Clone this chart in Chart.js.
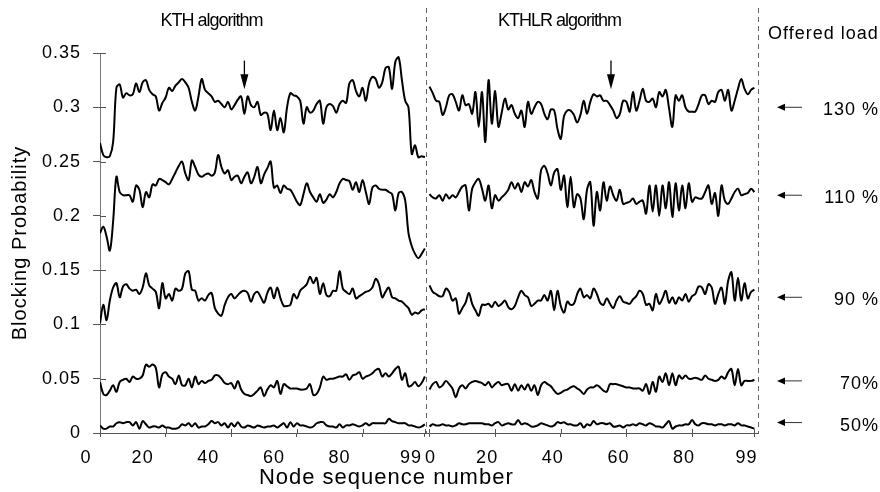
<!DOCTYPE html>
<html>
<head>
<meta charset="utf-8">
<script src="https://cdn.jsdelivr.net/npm/chart.js@4.4.1/dist/chart.umd.min.js"></script>
<style>
  html, body { margin: 0; padding: 0; background: #fff; }
  #wrap { width: 880px; height: 492px; position: relative; }
</style>
</head>
<body>
<div id="wrap"><canvas id="c"></canvas></div>
<script>
// Blocking probability per node, KTH (left panel) vs KTHLR (right panel),
// one curve per offered load.

const kth130 = [.267,.256,.254,.255,.268,.318,.321,.309,.313,.311,
  .312,.322,.314,.323,.325,.316,.312,.310,.297,.304,
  .309,.318,.315,.320,.323,.326,.323,.318,.305,.297,
  .310,.326,.316,.313,.310,.305,.306,.303,.300,.305,
  .298,.302,.307,.310,.294,.310,.302,.300,.305,.293,
  .295,.294,.279,.297,.279,.290,.277,.300,.313,.311,
  .310,.306,.285,.300,.295,.297,.303,.306,.285,.300,
  .303,.301,.295,.303,.306,.304,.322,.325,.315,.310,
  .318,.306,.322,.328,.326,.318,.323,.336,.337,.317,
  .342,.346,.325,.306,.300,.257,.265,.254,.255,.254];
const kth110 = [.184,.190,.181,.168,.195,.236,.222,.219,.219,.219,
  .213,.228,.224,.208,.222,.217,.229,.228,.234,.233,
  .231,.229,.234,.240,.246,.250,.239,.233,.251,.245,
  .238,.236,.238,.239,.237,.240,.256,.245,.239,.242,
  .233,.236,.237,.230,.236,.240,.230,.236,.245,.230,
  .238,.244,.250,.226,.228,.221,.228,.225,.224,.219,
  .213,.210,.220,.230,.222,.217,.213,.220,.212,.215,
  .220,.217,.222,.230,.234,.233,.232,.224,.231,.222,
  .233,.222,.211,.226,.228,.225,.224,.224,.222,.220,
  .205,.221,.222,.214,.184,.172,.165,.161,.165,.170];
const kth90 = [.101,.118,.104,.122,.134,.138,.125,.135,.137,.133,
  .131,.132,.128,.134,.147,.136,.133,.130,.115,.138,
  .124,.128,.122,.133,.131,.133,.147,.149,.132,.131,
  .122,.124,.122,.127,.129,.115,.110,.108,.118,.125,
  .128,.124,.127,.130,.131,.129,.121,.128,.130,.125,
  .120,.129,.134,.124,.134,.124,.117,.117,.118,.128,
  .124,.131,.134,.137,.144,.138,.143,.128,.138,.127,
  .126,.131,.131,.149,.133,.130,.128,.133,.124,.126,
  .128,.130,.131,.134,.142,.137,.125,.130,.134,.125,
  .124,.122,.121,.118,.115,.109,.111,.110,.113,.114];
const kth70 = [.047,.036,.035,.039,.044,.038,.047,.049,.050,.047,
  .052,.050,.050,.053,.063,.061,.063,.060,.042,.054,
  .056,.052,.050,.045,.053,.044,.044,.050,.042,.052,
  .045,.048,.046,.048,.049,.053,.053,.050,.046,.045,
  .046,.041,.048,.040,.036,.035,.034,.036,.039,.042,
  .034,.040,.044,.042,.048,.036,.045,.043,.041,.041,
  .041,.040,.040,.041,.045,.035,.036,.042,.052,.049,
  .050,.050,.051,.052,.052,.054,.049,.053,.054,.056,
  .050,.052,.053,.055,.058,.059,.052,.055,.052,.055,
  .059,.061,.049,.055,.043,.044,.047,.043,.046,.052];
const kth50 = [.007,.004,.004,.006,.006,.009,.010,.009,.010,.010,
  .007,.010,.004,.011,.008,.005,.006,.006,.005,.007,
  .005,.005,.004,.004,.005,.008,.007,.009,.006,.009,
  .005,.006,.006,.008,.011,.009,.010,.007,.009,.005,
  .009,.006,.010,.006,.005,.007,.006,.005,.007,.006,
  .005,.006,.006,.007,.005,.007,.009,.005,.010,.006,
  .009,.007,.007,.006,.005,.006,.009,.010,.010,.007,
  .006,.006,.005,.008,.005,.007,.007,.008,.007,.006,
  .007,.009,.007,.009,.009,.009,.009,.009,.013,.011,
  .010,.009,.009,.009,.007,.007,.006,.005,.006,.008];

const kthlr130 = [.319,.313,.306,.305,.293,.300,.311,.312,.305,.297,
  .311,.302,.303,.294,.314,.282,.314,.268,.325,.285,
  .315,.282,.295,.308,.298,.302,.294,.290,.297,.282,
  .305,.294,.300,.305,.303,.294,.289,.298,.297,.280,
  .271,.292,.297,.297,.293,.286,.293,.306,.294,.305,
  .312,.310,.311,.306,.306,.302,.297,.290,.294,.306,
  .305,.296,.314,.297,.306,.317,.306,.305,.308,.300,
  .314,.310,.316,.299,.282,.311,.306,.311,.300,.296,
  .296,.296,.303,.311,.311,.303,.306,.305,.314,.316,
  .306,.316,.297,.306,.317,.326,.317,.312,.316,.318];
const kthlr110 = [.220,.217,.216,.219,.214,.220,.216,.219,.217,.222,
  .227,.228,.205,.225,.231,.234,.225,.214,.228,.207,
  .219,.214,.217,.220,.224,.231,.225,.230,.222,.231,
  .227,.233,.222,.216,.242,.246,.239,.228,.240,.243,
  .224,.237,.208,.236,.208,.220,.216,.197,.224,.231,
  .191,.222,.205,.231,.214,.227,.219,.214,.224,.211,
  .212,.213,.216,.211,.213,.214,.202,.228,.204,.228,
  .200,.228,.207,.231,.199,.230,.205,.228,.207,.230,
  .213,.217,.216,.216,.222,.228,.211,.221,.200,.228,
  .214,.211,.216,.222,.225,.219,.220,.221,.225,.222];
const kthlr90 = [.136,.130,.128,.126,.126,.133,.130,.122,.124,.110,
  .115,.120,.129,.119,.113,.108,.118,.118,.119,.116,
  .121,.117,.119,.122,.116,.114,.117,.125,.131,.127,
  .125,.117,.119,.122,.122,.127,.122,.131,.113,.131,
  .117,.111,.121,.118,.119,.128,.133,.125,.127,.124,
  .133,.128,.120,.118,.124,.119,.115,.122,.126,.121,
  .120,.119,.123,.126,.131,.128,.118,.119,.113,.128,
  .119,.124,.131,.120,.125,.119,.125,.122,.128,.121,
  .126,.128,.135,.134,.128,.137,.134,.119,.128,.134,
  .119,.140,.148,.122,.143,.122,.138,.124,.130,.132];
const kthlr70 = [.040,.045,.047,.042,.044,.048,.045,.041,.033,.041,
  .044,.041,.045,.047,.048,.047,.046,.044,.047,.042,
  .045,.047,.044,.045,.045,.039,.045,.039,.044,.040,
  .045,.039,.044,.035,.044,.047,.045,.043,.039,.036,
  .037,.039,.040,.042,.043,.041,.039,.036,.040,.042,
  .042,.044,.042,.039,.038,.045,.045,.045,.044,.043,
  .042,.042,.041,.041,.041,.039,.045,.036,.047,.038,
  .052,.047,.055,.044,.055,.044,.053,.050,.053,.050,
  .050,.051,.050,.049,.053,.050,.049,.048,.049,.052,
  .050,.056,.059,.044,.059,.044,.048,.048,.048,.049];
const kthlr50 = [.006,.008,.007,.007,.008,.007,.007,.006,.007,.009,
  .008,.008,.009,.009,.009,.009,.009,.008,.008,.007,
  .009,.010,.007,.008,.009,.008,.008,.012,.008,.009,
  .008,.006,.006,.007,.009,.008,.007,.006,.007,.010,
  .009,.010,.008,.008,.007,.007,.009,.005,.008,.007,
  .011,.008,.009,.009,.008,.009,.006,.006,.007,.005,
  .007,.007,.008,.007,.009,.008,.007,.009,.008,.006,
  .006,.005,.008,.011,.004,.006,.007,.007,.008,.008,
  .012,.008,.007,.009,.009,.008,.008,.007,.008,.008,
  .007,.008,.008,.007,.009,.007,.007,.006,.005,.004];

const panelTitles = ['KTH algorithm', 'KTHLR algorithm'];
const nodeTicks = [0, 20, 40, 60, 80, 99];
const loadLabels = ['130 %', '110 %', '90 %', '70%', '50%'];
const loadLevels = [0.300, 0.219, 0.125, 0.048, 0.0096];   // where each right-hand arrow points
const markedNodes = [[0, 44], [1, 55.3]];                   // [panel, node] of the small down arrows

// the right panel continues on the same linear axis, shifted by this many nodes
const PANEL2 = 100.4;
const X_MAX = 200.5;
const DIVIDER = 99.3;

const FONT = '"Liberation Sans", Arial, sans-serif';

function series(vals, offset) {
  return vals.map((v, i) => ({ x: offset + i, y: v }));
}

const curves = [
  [kth130, 0], [kth110, 0], [kth90, 0], [kth70, 0], [kth50, 0],
  [kthlr130, PANEL2], [kthlr110, PANEL2], [kthlr90, PANEL2], [kthlr70, PANEL2], [kthlr50, PANEL2],
];

const datasets = curves.map(([vals, off]) => ({
  data: series(vals, off),
  parsing: false,
  borderColor: '#000',
  borderWidth: 2,
  pointRadius: 0,
  tension: 0.35,
  fill: false,
}));

const tickPositions = [...nodeTicks, ...nodeTicks.map(n => n + PANEL2)];

// letter spacing on all canvas text, the scan looks tracked out
const spacingPlugin = {
  id: 'spacing',
  beforeDraw(chart) { chart.ctx.letterSpacing = '1px'; },
};

// tick marks in the reference cross the axis, chart.js only draws the outer half
const innerTicksPlugin = {
  id: 'innerTicks',
  afterDraw(chart) {
    const ctx = chart.ctx, x = chart.scales.x, y = chart.scales.y;
    const a = chart.chartArea;
    ctx.save();
    ctx.strokeStyle = '#555';
    ctx.lineWidth = 1;
    ctx.beginPath();
    for (const t of y.ticks) {
      const py = Math.round(y.getPixelForValue(t.value)) + 0.5;
      ctx.moveTo(a.left, py);
      ctx.lineTo(a.left + 6, py);
    }
    for (const t of x.ticks) {
      const px = Math.round(x.getPixelForValue(t.value)) + 0.5;
      ctx.moveTo(px, a.bottom);
      ctx.lineTo(px, a.bottom - 4);
    }
    ctx.stroke();
    ctx.restore();
  },
};

function downArrow(ctx, px, yTop, yTip) {
  ctx.beginPath();
  ctx.moveTo(px, yTop);
  ctx.lineTo(px, yTip - 12);
  ctx.stroke();
  ctx.beginPath();
  ctx.moveTo(px - 4, yTip - 15);
  ctx.lineTo(px + 4, yTip - 15);
  ctx.lineTo(px, yTip);
  ctx.closePath();
  ctx.fill();
}

function leftArrow(ctx, x0, x1, py) {
  ctx.beginPath();
  ctx.moveTo(x0 + 6, py);
  ctx.lineTo(x1, py);
  ctx.stroke();
  ctx.beginPath();
  ctx.moveTo(x0, py);
  ctx.lineTo(x0 + 8, py - 3.5);
  ctx.lineTo(x0 + 8, py + 3.5);
  ctx.closePath();
  ctx.fill();
}

const annotatePlugin = {
  id: 'annotate',
  afterDatasetsDraw(chart) {
    const ctx = chart.ctx, xs = chart.scales.x, ys = chart.scales.y;
    const a = chart.chartArea;
    ctx.save();

    // panel dividers
    ctx.strokeStyle = '#666';
    ctx.lineWidth = 1;
    ctx.setLineDash([5, 4]);
    for (const v of [DIVIDER, X_MAX]) {
      const px = Math.round(xs.getPixelForValue(v)) + 0.5;
      ctx.beginPath();
      ctx.moveTo(px, 8);
      ctx.lineTo(px, a.bottom);
      ctx.stroke();
    }
    ctx.setLineDash([]);

    // panel titles, set narrower than the rest
    ctx.fillStyle = '#000';
    ctx.textBaseline = 'middle';
    ctx.textAlign = 'center';
    ctx.letterSpacing = '-1px';
    ctx.font = '18px ' + FONT;
    ctx.fillText(panelTitles[0], xs.getPixelForValue(34), 21);
    ctx.fillText(panelTitles[1], xs.getPixelForValue(140), 21);
    ctx.letterSpacing = '1px';

    ctx.textAlign = 'left';
    ctx.font = '18px ' + FONT;
    ctx.fillText('Offered load', a.right + 10, 34);

    // markers pointing into the 130 % curves
    ctx.strokeStyle = '#000';
    ctx.fillStyle = '#000';
    ctx.lineWidth = 1.3;
    for (const [panel, node] of markedNodes) {
      const px = xs.getPixelForValue(node + (panel ? PANEL2 : 0));
      downArrow(ctx, px, ys.getPixelForValue(0.343), ys.getPixelForValue(0.3165));
    }

    // offered-load arrows and labels
    ctx.lineWidth = 1;
    ctx.strokeStyle = '#333';
    ctx.textAlign = 'right';
    ctx.font = '18px ' + FONT;
    loadLevels.forEach((lv, i) => {
      const py = ys.getPixelForValue(lv);
      leftArrow(ctx, a.right + 19, a.right + 44, py);
      ctx.fillText(loadLabels[i], 879, py + 3);
    });
    ctx.restore();
  },
};

new Chart(document.getElementById('c'), {
  type: 'line',
  data: { datasets },
  options: {
    responsive: true,
    maintainAspectRatio: false,
    animation: false,
    events: [],
    layout: { padding: { top: 53, right: 122, left: 0, bottom: 0 } },
    plugins: { legend: { display: false }, tooltip: { enabled: false } },
    scales: {
      x: {
        type: 'linear',
        min: 0,
        max: X_MAX,
        afterBuildTicks: s => { s.ticks = tickPositions.map(v => ({ value: v })); },
        afterFit: s => { s.height = 59; },
        border: { color: '#555', width: 1 },
        grid: { drawOnChartArea: false, tickLength: 4, color: '#555' },
        ticks: {
          autoSkip: false,
          maxRotation: 0,
          padding: 10,
          labelOffset: -8,
          color: '#000',
          font: { family: FONT, size: 18 },
          callback: v => {
            const n = Math.round(v < PANEL2 - 0.5 ? v : v - PANEL2);
            if (v >= PANEL2 - 0.5) return n === 0 ? '   0' : String(n);
            if (n === 0 || n === 99) return n + '  ';
            return n + '     ';
          },
        },
        title: {
          display: true,
          // trailing spaces pull the centred title left, as in the source figure
          text: 'Node sequence number            ',
          color: '#000',
          font: { family: FONT, size: 22 },
          padding: { top: 0, bottom: 1 },
        },
      },
      y: {
        min: 0,
        max: 0.35,
        afterFit: s => { s.width = 100; },
        border: { color: '#777', width: 1 },
        grid: { drawOnChartArea: false, tickLength: 7, color: '#555' },
        ticks: {
          stepSize: 0.05,
          padding: 12,
          color: '#000',
          font: { family: FONT, size: 18 },
          callback: v => String(Number(v.toFixed(2))),
        },
        title: {
          display: true,
          text: 'Blocking Probability',
          color: '#000',
          font: { family: FONT, size: 20 },
          padding: { top: 8, bottom: 0 },
        },
      },
    },
  },
  plugins: [spacingPlugin, innerTicksPlugin, annotatePlugin],
});
</script>
</body>
</html>
